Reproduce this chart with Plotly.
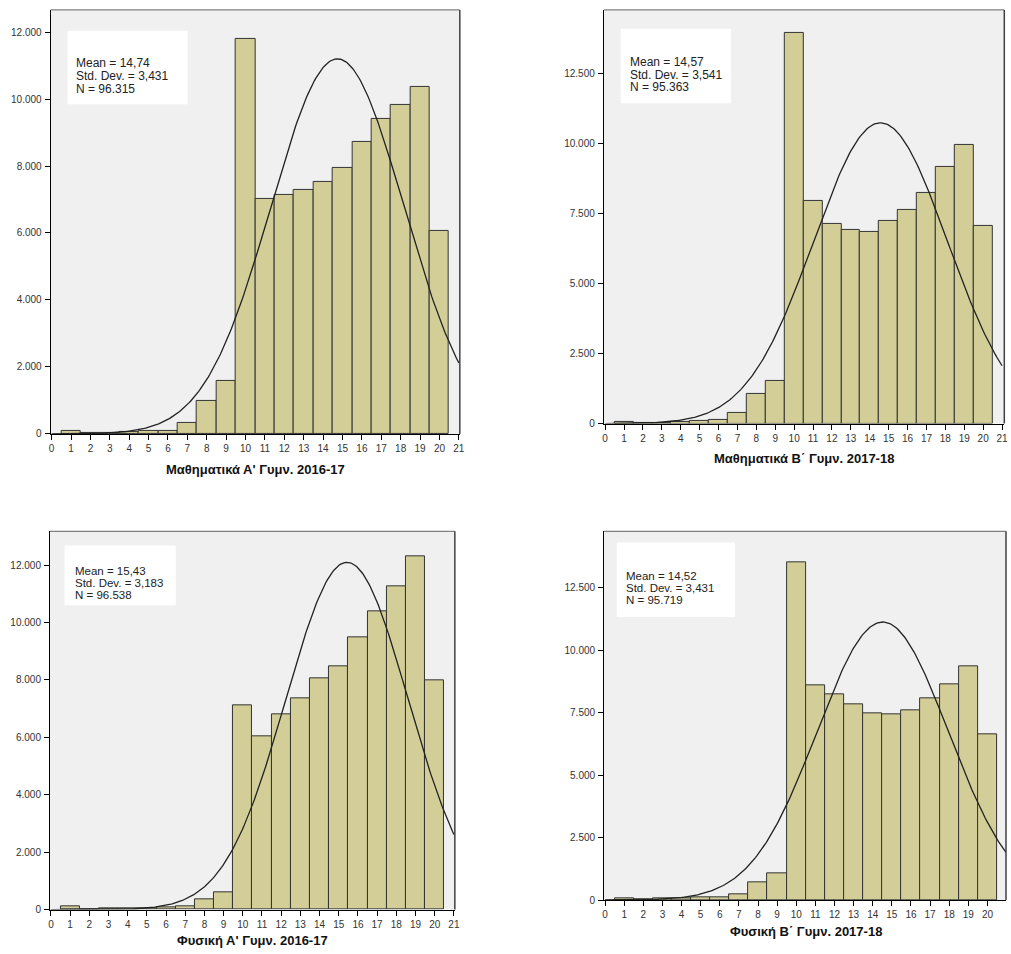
import numpy as np
import plotly.graph_objects as go

W, H = 1011, 954

grades = list(range(1, 21))

math_a_counts = [100, 30, 30, 70, 80, 90, 336, 980, 1573, 11808, 7003, 7150, 7280, 7527, 7932, 8733, 9405, 9811, 10365, 6073]
math_b_counts = [71, 24, 35, 71, 106, 142, 390, 1077, 1526, 13959, 7938, 7133, 6932, 6850, 7228, 7619, 8246, 9180, 9937, 7063]
phys_a_counts = [100, 20, 30, 30, 50, 80, 110, 350, 610, 7100, 6020, 6820, 7350, 8040, 8490, 9470, 10400, 11260, 12320, 7980]
phys_b_counts = [80, 27, 53, 66, 93, 106, 212, 703, 1087, 13525, 8606, 8248, 7837, 7492, 7439, 7611, 8062, 8632, 9362, 6630]

titles = ["Μαθηματικά Α' Γυμν. 2016-17", "Μαθηματικά Β΄ Γυμν. 2017-18",
          "Φυσική Α' Γυμν. 2016-17", "Φυσική Β΄ Γυμν. 2017-18"]
means = [14.74, 14.57, 15.43, 14.52]
sds = [3.431, 3.541, 3.183, 3.431]
ns = [96315, 95363, 96538, 95719]
mean_labels = ["14,74", "14,57", "15,43", "14,52"]
sd_labels = ["3,431", "3,541", "3,183", "3,431"]
n_labels = ["96.315", "95.363", "96.538", "95.719"]

y_ticks_a = [0, 2000, 4000, 6000, 8000, 10000, 12000]
y_ticks_b = [0, 2500, 5000, 7500, 10000, 12500]
x_ticks = list(range(0, 22))

counts = [math_a_counts, math_b_counts, phys_a_counts, phys_b_counts]
yticks = [y_ticks_a, y_ticks_b, y_ticks_a, y_ticks_b]

# layout (pixels): plot area left, right, top, bottom; axis ranges
panels = [
    dict(l=49, r=461, t=10, b=436.7, xr=[-0.05, 21.05], yr=[0, 12660],
         box=(66, 187, 31, 105), text_x=73, text_y=[63.5, 76.5, 89.3], title_y=472, fs=12),
    dict(l=606, r=1009.3, t=10, b=426.3, xr=[-0.07, 21.12], yr=[0, 14775],
         box=(623, 734, 29, 104), text_x=630, text_y=[62.5, 75.3, 87.8], title_y=461.5, fs=12),
    dict(l=48.3, r=456, t=534.7, b=915.3, xr=[-0.05, 21.05], yr=[0, 13180],
         box=(63, 175, 549, 609), text_x=71, text_y=[575, 587, 599], title_y=946, fs=11.5),
    dict(l=606.3, r=1011, t=534.7, b=905.7, xr=[-0.05, 20.97], yr=[0, 14760],
         box=(619, 738, 546, 621), text_x=626, text_y=[579.5, 591.5, 603.5], title_y=937, fs=11.5),
]

BAR = "#D3CE97"
FONT = "Liberation Sans, Arial, sans-serif"

fig = go.Figure()
shapes = []
annotations = []

def px(x):
    return x / W

def py(y):
    return 1 - y / H

for i, p in enumerate(panels):
    sfx = "" if i == 0 else str(i + 1)
    xa, ya = "x" + sfx, "y" + sfx
    fig.add_trace(go.Bar(
        x=grades, y=counts[i], width=1, xaxis=xa, yaxis=ya,
        marker=dict(color=BAR, line=dict(color="#333333", width=1)),
        showlegend=False, hoverinfo="x+y"))
    xs = np.linspace(0, 21, 300)
    ys = ns[i] * 1.0 / (sds[i] * np.sqrt(2 * np.pi)) * np.exp(-0.5 * ((xs - means[i]) / sds[i]) ** 2)
    fig.add_trace(go.Scatter(
        x=xs, y=ys, mode="lines", xaxis=xa, yaxis=ya,
        line=dict(color="#222222", width=1.3), showlegend=False, hoverinfo="skip"))

    common_axis = dict(showgrid=False, zeroline=False, showline=True, linecolor="#000000",
                       linewidth=1, ticks="outside", ticklen=5, tickcolor="#000000",
                       tickfont=dict(family=FONT, size=10, color="#333333"), fixedrange=True)
    fig.update_layout(**{
        "xaxis" + sfx: dict(domain=[px(p["l"]), px(p["r"])], range=p["xr"], anchor=ya,
                            tickvals=x_ticks, ticktext=[str(t) for t in x_ticks],
                            ticklabelstandoff=0, **common_axis),
        "yaxis" + sfx: dict(domain=[py(p["b"]), py(p["t"])], range=p["yr"], anchor=xa,
                            tickvals=yticks[i], tickformat=",d", ticklabelstandoff=1,
                            **common_axis),
    })

    # top and right frame
    shapes.append(dict(type="line", xref="paper", yref="paper", x0=px(p["l"]), x1=px(p["r"]),
                       y0=py(p["t"]), y1=py(p["t"]), line=dict(color="#808080", width=1.2), layer="above"))
    shapes.append(dict(type="line", xref="paper", yref="paper", x0=px(p["r"]), x1=px(p["r"]),
                       y0=py(p["t"]), y1=py(p["b"]), line=dict(color="#404040", width=1.5), layer="above"))
    # stats box
    bx0, bx1, by0, by1 = p["box"]
    shapes.append(dict(type="rect", xref="paper", yref="paper", x0=px(bx0), x1=px(bx1),
                       y0=py(by1), y1=py(by0), fillcolor="#FFFFFF", line=dict(width=0), layer="above"))
    lines = ["Mean = " + mean_labels[i], "Std. Dev. = " + sd_labels[i], "N = " + n_labels[i]]
    for txt, ty in zip(lines, p["text_y"]):
        annotations.append(dict(text=txt, xref="paper", yref="paper", x=px(p["text_x"]), y=py(ty),
                                xanchor="left", yanchor="middle", showarrow=False,
                                font=dict(family=FONT, size=p["fs"], color="#222222")))
    annotations.append(dict(text="<b>" + titles[i] + "</b>", xref="paper", yref="paper",
                            x=px((p["l"] + p["r"]) / 2 if i != 3 else 809.5), y=py(p["title_y"]),
                            xanchor="center", yanchor="middle", showarrow=False,
                            font=dict(family=FONT, size=13, color="#111111")))

fig.update_layout(
    width=W, height=H, margin=dict(l=0, r=0, t=0, b=0),
    paper_bgcolor="#FFFFFF", plot_bgcolor="#F0F0F0",
    separators=",.", bargap=0, barmode="overlay",
    shapes=shapes, annotations=annotations,
    font=dict(family=FONT, size=10, color="#333333"),
)

fig.write_html("out.html", config={"displayModeBar": False},
               post_script="document.body.style.margin='0';document.body.style.overflow='hidden';")
